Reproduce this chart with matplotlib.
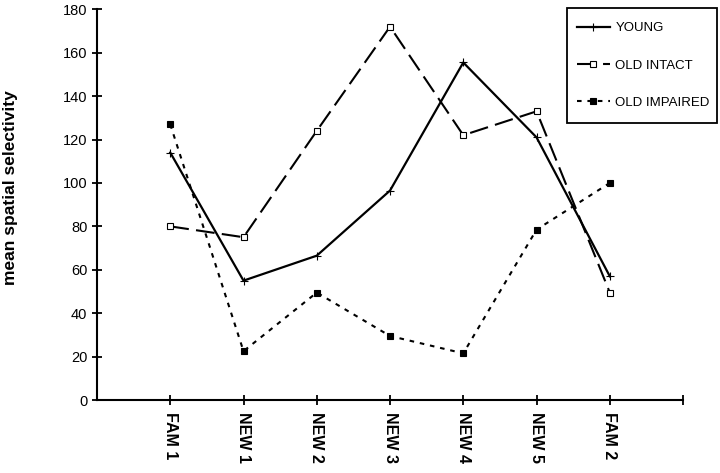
import matplotlib
matplotlib.use("Agg")
import matplotlib.pyplot as plt
from matplotlib.patches import Rectangle

plt.rcParams['font.family'] = ['Liberation Sans', 'DejaVu Sans']

sesiones = ['FAM 1', 'NEW 1', 'NEW 2', 'NEW 3', 'NEW 4', 'NEW 5', 'FAM 2']
young = [114, 55, 66.5, 96.5, 155.5, 121, 57]
old_intact = [80, 75, 124, 172, 122, 133, 49.5]
old_impaired = [127, 22.5, 49.5, 29.5, 21.5, 78.5, 100]

fig = plt.figure(figsize=(7.2, 4.73), dpi=100)
ax = fig.add_axes([0.1347, 0.1543, 0.814, 0.826])

x = list(range(len(sesiones)))
ax.plot(x, young, color='black', lw=1.6, marker='+', ms=6, mew=0.8,
        label='YOUNG')
ax.plot(x, old_intact, color='black', lw=1.5, dashes=(9, 3.5), marker='s',
        ms=4.5, mfc='white', mew=0.8, label='OLD INTACT')
ax.plot(x, old_impaired, color='black', lw=1.5, dashes=(2.2, 2.8), marker='s',
        ms=4.5, mfc='black', mew=0.8, label='OLD IMPAIRED')

ax.set_xlim(-1, 7)
ax.set_ylim(0, 180)
ax.set_yticks(range(0, 181, 20))
ax.set_xticks(x + [7])
ax.set_xticklabels(sesiones + [''], rotation=270, fontweight='bold', fontsize=11.5)
ax.tick_params(axis='both', direction='inout', length=7, width=1.3,
               colors='black')
ax.tick_params(axis='y', labelsize=10.5)
ax.tick_params(axis='x', pad=5)
ax.set_ylabel('mean spatial selectivity', fontweight='bold', fontsize=12.5)
ax.yaxis.set_label_coords(-0.134, 0.543)

for lado in ['top', 'right']:
    ax.spines[lado].set_visible(False)
for lado in ['left', 'bottom']:
    ax.spines[lado].set_linewidth(1.5)

# leyenda sin marco y el marco aparte, para controlar los márgenes
fig.legend(loc='upper left', bbox_to_anchor=(577 / 720, 1 - 22 / 473),
           borderaxespad=0, borderpad=0, fontsize=9.5, frameon=False,
           handlelength=2.5, labelspacing=1.9, handletextpad=0.4)
fig.patches.append(Rectangle((567 / 720, 1 - 123 / 473), 150 / 720, 115 / 473,
                             transform=fig.transFigure, fill=False,
                             edgecolor='black', lw=1.3))

plt.savefig('out.png', dpi=100)
plt.close()
